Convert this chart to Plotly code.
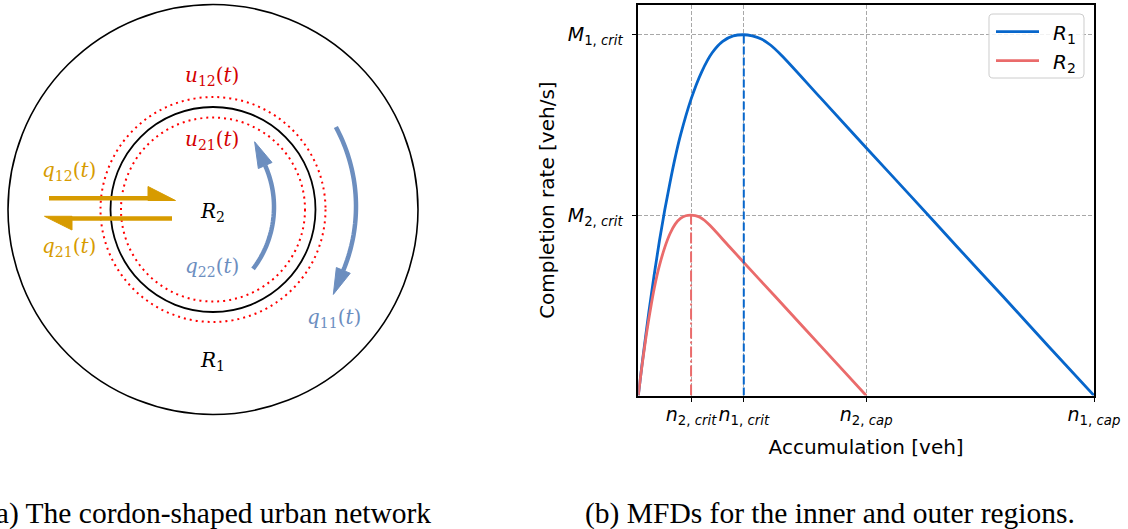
import math
import plotly.graph_objects as go

# ---------------- data : right panel (MFDs) ----------------
n_tick_vals = [1158, 2315, 5000, 10000]          # n2,crit  n1,crit  n2,cap  n1,cap  [veh]
n_tick_text = ["<i>n</i><sub>2, <i>crit</i></sub>",
               "<i>n</i><sub>1, <i>crit</i></sub>",
               "<i>n</i><sub>2, <i>cap</i></sub>",
               "<i>n</i><sub>1, <i>cap</i></sub>"]
M_tick_vals = [3.0, 6.0]                          # M2,crit  M1,crit  [veh/s]
M_tick_text = ["<i>M</i><sub>2, <i>crit</i></sub>",
               "<i>M</i><sub>1, <i>crit</i></sub>"]

R1_n = [0, 58, 116, 232, 347, 463, 579, 695, 810, 926, 1158, 1389, 1621, 1852, 2084, 2315,
        2500, 2700, 2900, 3140, 4000, 5000, 6000, 7000, 8000, 9000, 10000]
R1_M = [0, 0.37, 0.72, 1.39, 2.00, 2.57, 3.08, 3.54, 3.96, 4.33, 4.93, 5.38, 5.70, 5.89, 5.98, 6.00,
        5.98, 5.93, 5.83, 5.66, 4.95, 4.12, 3.30, 2.47, 1.65, 0.82, 0]

R2_n = [0, 29, 58, 116, 174, 232, 290, 347, 405, 463, 579, 695, 810, 926, 1042, 1158,
        1250, 1350, 1450, 1570, 2000, 2500, 3000, 4000, 5000]
R2_M = [0, 0.18, 0.36, 0.69, 1.00, 1.28, 1.54, 1.77, 1.98, 2.16, 2.46, 2.69, 2.85, 2.945, 2.99, 3.00,
        2.99, 2.965, 2.915, 2.83, 2.475, 2.06, 1.65, 0.825, 0]

n1_crit, n2_crit = n_tick_vals[1], n_tick_vals[0]
M1_crit, M2_crit = M_tick_vals[1], M_tick_vals[0]
series_names = ["<i>R</i><sub>1</sub>", "<i>R</i><sub>2</sub>"]

# ---------------- diagram labels : left panel ----------------
diagram_text = ["<i>u</i><sub>12</sub>(<i>t</i>)", "<i>u</i><sub>21</sub>(<i>t</i>)",
                "<i>q</i><sub>12</sub>(<i>t</i>)", "<i>q</i><sub>21</sub>(<i>t</i>)",
                "<i>q</i><sub>22</sub>(<i>t</i>)", "<i>q</i><sub>11</sub>(<i>t</i>)",
                "<i>R</i><sub>2</sub>", "<i>R</i><sub>1</sub>"]
captions = ["(a) The cordon-shaped urban network",
            "(b) MFDs for the inner and outer regions."]

# ---------------- styling ----------------
W, H = 1128, 529
BLUE, RED = "#0766CB", "#EA6B6B"
ORANGE, LBLUE, DRED = "#D79B00", "#6C8EBF", "#D40000"
SANS = "DejaVu Sans"
SERIF = "DejaVu Serif"


def px(x):
    return x / W


def py(y):
    return (H - y) / H


fig = go.Figure()

fig.add_trace(go.Scatter(x=R1_n, y=R1_M, mode="lines", name=series_names[0], showlegend=False,
                         line=dict(color=BLUE, width=2.8, shape="spline", smoothing=1.0)))
fig.add_trace(go.Scatter(x=R2_n, y=R2_M, mode="lines", name=series_names[1], showlegend=False,
                         line=dict(color=RED, width=2.8, shape="spline", smoothing=1.0)))
fig.add_trace(go.Scatter(x=[n1_crit, n1_crit], y=[0, M1_crit], mode="lines", showlegend=False,
                         line=dict(color=BLUE, width=2, dash="8px,3px")))
fig.add_trace(go.Scatter(x=[n2_crit, n2_crit], y=[0, M2_crit], mode="lines", showlegend=False,
                         line=dict(color=RED, width=2, dash="11px,3px,2px,3px")))

# ---------------- left diagram (pixel-like coordinate frame) ----------------
CX, CY = 213, 209.5
shapes = []


def circle(r, color, width, dash=None):
    d = dict(type="circle", xref="x2", yref="y2", x0=CX - r, x1=CX + r, y0=CY - r, y1=CY + r,
             line=dict(color=color, width=width))
    if dash:
        d["line"]["dash"] = dash
    return d


shapes.append(circle(205, "black", 1.6))
shapes.append(circle(102.5, "black", 1.8))
shapes.append(circle(112.5, "#FF0000", 2, "2px,4px"))
shapes.append(circle(92, "#FF0000", 2, "2px,4px"))


def arc_arrow(cx, cy, r, a0, a1, color, width=4.5, head_len=26, head_hw=7.5):
    n = 40
    pts = []
    for i in range(n + 1):
        a = math.radians(a0 + (a1 - a0) * i / n)
        pts.append((cx + r * math.cos(a), cy + r * math.sin(a)))
    path = "M " + " L ".join(f"{x:.2f} {y:.2f}" for x, y in pts)
    out = [dict(type="path", xref="x2", yref="y2", path=path,
                line=dict(color=color, width=width))]
    a = math.radians(a1)
    bx, by = pts[-1]
    s = 1 if a1 > a0 else -1
    dx, dy = -math.sin(a) * s, math.cos(a) * s
    tx, ty = bx + head_len * dx, by + head_len * dy
    nx, ny = -dy, dx
    tri = (f"M {tx:.2f} {ty:.2f} L {bx + head_hw * nx:.2f} {by + head_hw * ny:.2f} "
           f"L {bx - head_hw * nx:.2f} {by - head_hw * ny:.2f} Z")
    out.append(dict(type="path", xref="x2", yref="y2", path=tri, fillcolor=color,
                    line=dict(color=color, width=1)))
    return out


shapes += arc_arrow(172, 207, 102, 37.4, -24.0, LBLUE)       # q22
shapes += arc_arrow(189, 206.5, 167, -28.4, 22.5, LBLUE)     # q11

# orange straight half-arrows
shapes.append(dict(type="line", xref="x2", yref="y2", x0=49, x1=150, y0=198.3, y1=198.3,
                   line=dict(color=ORANGE, width=4.5)))
shapes.append(dict(type="path", xref="x2", yref="y2",
                   path="M 148 186.5 L 175.5 200.5 L 148 200.5 Z",
                   fillcolor=ORANGE, line=dict(color=ORANGE, width=1)))
shapes.append(dict(type="line", xref="x2", yref="y2", x0=70, x1=172, y0=218.5, y1=218.5,
                   line=dict(color=ORANGE, width=4.5)))
shapes.append(dict(type="path", xref="x2", yref="y2",
                   path="M 44.5 216.3 L 72 216.3 L 72 230 Z",
                   fillcolor=ORANGE, line=dict(color=ORANGE, width=1)))

label_pos = [(212, 76), (212, 140), (69, 171), (69, 247), (212, 267), (334, 318), (212, 212), (212, 361)]
label_col = [DRED, DRED, ORANGE, ORANGE, LBLUE, LBLUE, "black", "black"]
annotations = []
for t, (x, y), c in zip(diagram_text, label_pos, label_col):
    annotations.append(dict(text=t, x=x, y=y, xref="x2", yref="y2", showarrow=False,
                            xanchor="center", yanchor="middle",
                            font=dict(family=SERIF, size=20, color=c)))

# ---------------- legend box (paper coordinates) ----------------
LX0, LX1, LY0, LY1, RAD = 989, 1084, 14, 78, 4
pts_path = [("M", LX0 + RAD, LY0), ("L", LX1 - RAD, LY0), ("Q", LX1, LY0, LX1, LY0 + RAD),
            ("L", LX1, LY1 - RAD), ("Q", LX1, LY1, LX1 - RAD, LY1), ("L", LX0 + RAD, LY1),
            ("Q", LX0, LY1, LX0, LY1 - RAD), ("L", LX0, LY0 + RAD), ("Q", LX0, LY0, LX0 + RAD, LY0)]
segs = []
for seg in pts_path:
    cmd, coords = seg[0], seg[1:]
    xy = []
    for k in range(0, len(coords), 2):
        xy.append(f"{px(coords[k]):.5f} {py(coords[k + 1]):.5f}")
    segs.append(cmd + " " + " ".join(xy))
shapes.append(dict(type="path", xref="paper", yref="paper", path=" ".join(segs) + " Z",
                   fillcolor="rgba(255,255,255,0.85)", line=dict(color="#cccccc", width=1)))
for i, (name, col) in enumerate(zip(series_names, [BLUE, RED])):
    ly = 31.7 + 29 * i
    shapes.append(dict(type="line", xref="paper", yref="paper", x0=px(996), x1=px(1039),
                       y0=py(ly), y1=py(ly), line=dict(color=col, width=2.8)))
    annotations.append(dict(text=name, x=px(1051), y=py(ly + 2), xref="paper", yref="paper",
                            showarrow=False, xanchor="left", yanchor="middle",
                            font=dict(family=SANS, size=20, color="black")))

# captions
annotations.append(dict(text=captions[0], x=px(208), y=py(513), xref="paper", yref="paper",
                        showarrow=False, xanchor="center", yanchor="middle",
                        font=dict(family="Liberation Serif", size=29.5, color="black")))
annotations.append(dict(text=captions[1], x=px(830), y=py(513), xref="paper", yref="paper",
                        showarrow=False, xanchor="center", yanchor="middle",
                        font=dict(family="Liberation Serif", size=29.5, color="black")))

GRID = dict(showgrid=True, gridcolor="#a8a8a8", gridwidth=1, griddash="4px,2px")

fig.update_layout(
    width=W, height=H, template="none",
    margin=dict(l=0, r=0, t=0, b=0),
    paper_bgcolor="white", plot_bgcolor="rgba(0,0,0,0)",
    font=dict(family=SANS, size=19, color="black"),
    showlegend=False,
    xaxis=dict(domain=[px(638.3), px(1094)], range=[0, 10000], anchor="y",
               tickmode="array", tickvals=n_tick_vals, ticktext=n_tick_text, tickangle=0,
               ticks="outside", ticklen=5, tickwidth=1.3, tickcolor="black",
               showline=True, linecolor="black", linewidth=1.5, mirror=True, zeroline=False,
               tickfont=dict(family=SANS, size=19), ticklabelstandoff=-4,
               title=dict(text="Accumulation [veh]", font=dict(family=SANS, size=20), standoff=13),
               **GRID),
    yaxis=dict(domain=[py(395.5), py(4.7)], range=[0, 6.5], anchor="x",
               tickmode="array", tickvals=M_tick_vals, ticktext=M_tick_text,
               ticks="outside", ticklen=5, tickwidth=1.3, tickcolor="black",
               showline=True, linecolor="black", linewidth=1.5, mirror=True, zeroline=False,
               tickfont=dict(family=SANS, size=19), ticklabelstandoff=5,
               title=dict(text="Completion rate [veh/s]", font=dict(family=SANS, size=20), standoff=8),
               **GRID),
    xaxis2=dict(domain=[0, px(440)], range=[0, 440], anchor="y2", visible=False, fixedrange=True),
    yaxis2=dict(domain=[0, 1], range=[H, 0], anchor="x2", visible=False, fixedrange=True),
    shapes=shapes,
    annotations=annotations,
)

fig.write_html("out.html", config={"displayModeBar": False},
               post_script="document.body.style.margin='0px';")
